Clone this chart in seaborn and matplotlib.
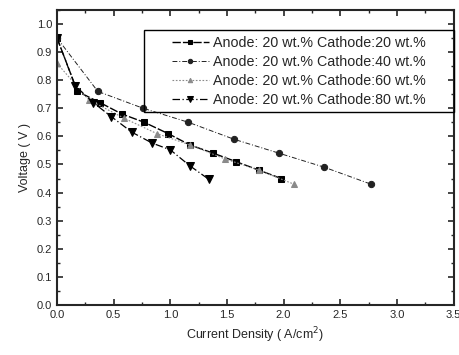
import matplotlib
matplotlib.use("Agg")
import matplotlib.pyplot as plt
import seaborn as sns
import pandas as pd
from matplotlib.patches import Rectangle
from matplotlib.ticker import MultipleLocator, FormatStrFormatter

# current density (A/cm2) and voltage (V) for each cathode loading
x_c20 = [0.0, 0.18, 0.38, 0.57, 0.77, 0.98, 1.17, 1.38, 1.58, 1.78, 1.98]
v_c20 = [0.95, 0.76, 0.72, 0.68, 0.65, 0.61, 0.57, 0.54, 0.51, 0.48, 0.45]

x_c40 = [0.0, 0.36, 0.76, 1.16, 1.56, 1.96, 2.36, 2.77]
v_c40 = [0.95, 0.76, 0.70, 0.65, 0.59, 0.54, 0.49, 0.43]

x_c60 = [0.0, 0.28, 0.59, 0.88, 1.17, 1.48, 1.78, 2.09]
v_c60 = [0.86, 0.73, 0.665, 0.61, 0.57, 0.52, 0.48, 0.43]

x_c80 = [0.0, 0.16, 0.32, 0.48, 0.66, 0.84, 1.0, 1.17, 1.34]
v_c80 = [0.95, 0.78, 0.72, 0.67, 0.615, 0.576, 0.552, 0.496, 0.447]

labels = ["Anode: 20 wt.% Cathode:20 wt.%",
          "Anode: 20 wt.% Cathode:40 wt.%",
          "Anode: 20 wt.% Cathode:60 wt.%",
          "Anode: 20 wt.% Cathode:80 wt.%"]

sns.set_style("ticks")
plt.rcParams['font.family'] = ['Liberation Sans', 'DejaVu Sans']

fig = plt.figure(figsize=(4.6, 3.55), dpi=100)
ax = fig.add_axes([0.124, 0.141, 0.862, 0.831])

styles = [
    dict(marker="s", color="black", linestyle=(0, (6, 1.5)), markersize=4.5, linewidth=1.0),
    dict(marker="o", color="#222222", linestyle=(0, (5, 2, 1, 2)), markersize=4.5, linewidth=0.7),
    dict(marker="^", color="#8a8a8a", linestyle=(0, (1.5, 1.5)), markersize=4.5, linewidth=0.8),
    dict(marker="v", color="black", linestyle=(0, (6, 2, 1, 2)), markersize=5.5, linewidth=0.9),
]

series = [(x_c20, v_c20), (x_c40, v_c40), (x_c60, v_c60), (x_c80, v_c80)]
for (xs, vs), lab, st in zip(series, labels, styles):
    df = pd.DataFrame({"x": xs, "v": vs})
    sns.lineplot(data=df, x="x", y="v", ax=ax, label=lab,
                 markeredgecolor=st["color"], **st)

ax.set_xlim(0, 3.5)
ax.set_ylim(0, 1.05)
ax.xaxis.set_major_locator(MultipleLocator(0.5))
ax.xaxis.set_minor_locator(MultipleLocator(0.25))
ax.yaxis.set_major_locator(MultipleLocator(0.1))
ax.yaxis.set_minor_locator(MultipleLocator(0.05))
ax.xaxis.set_major_formatter(FormatStrFormatter("%.1f"))
ax.yaxis.set_major_formatter(FormatStrFormatter("%.1f"))
ax.tick_params(which="both", direction="in", top=True, right=True, labelsize=8)
ax.tick_params(which="major", length=4, width=1.2)
ax.tick_params(which="minor", length=2, width=1.0)
for sp in ax.spines.values():
    sp.set_linewidth(1.5)

ax.set_xlabel("Current Density ( A/cm$^2$)", fontsize=9)
ax.set_ylabel("Voltage ( V )", fontsize=9)

leg = ax.legend(loc="upper right", bbox_to_anchor=(0.9445, 0.932), borderaxespad=0,
                fontsize=10.3, frameon=False,
                handlelength=2.6, handletextpad=0.3, markerscale=0.7,
                borderpad=0.4, labelspacing=0.35)

# the original legend box has wide side margins: draw a frame around the legend
fig.canvas.draw()
bb = leg.get_window_extent()
extra = 22
frame = Rectangle(((bb.x0 - extra) / fig.bbox.width, bb.y0 / fig.bbox.height),
                  (bb.width + 2 * extra) / fig.bbox.width, bb.height / fig.bbox.height,
                  transform=fig.transFigure, fill=False, edgecolor="black",
                  linewidth=1.0, zorder=5)
fig.add_artist(frame)

fig.savefig("out.png", dpi=100)
